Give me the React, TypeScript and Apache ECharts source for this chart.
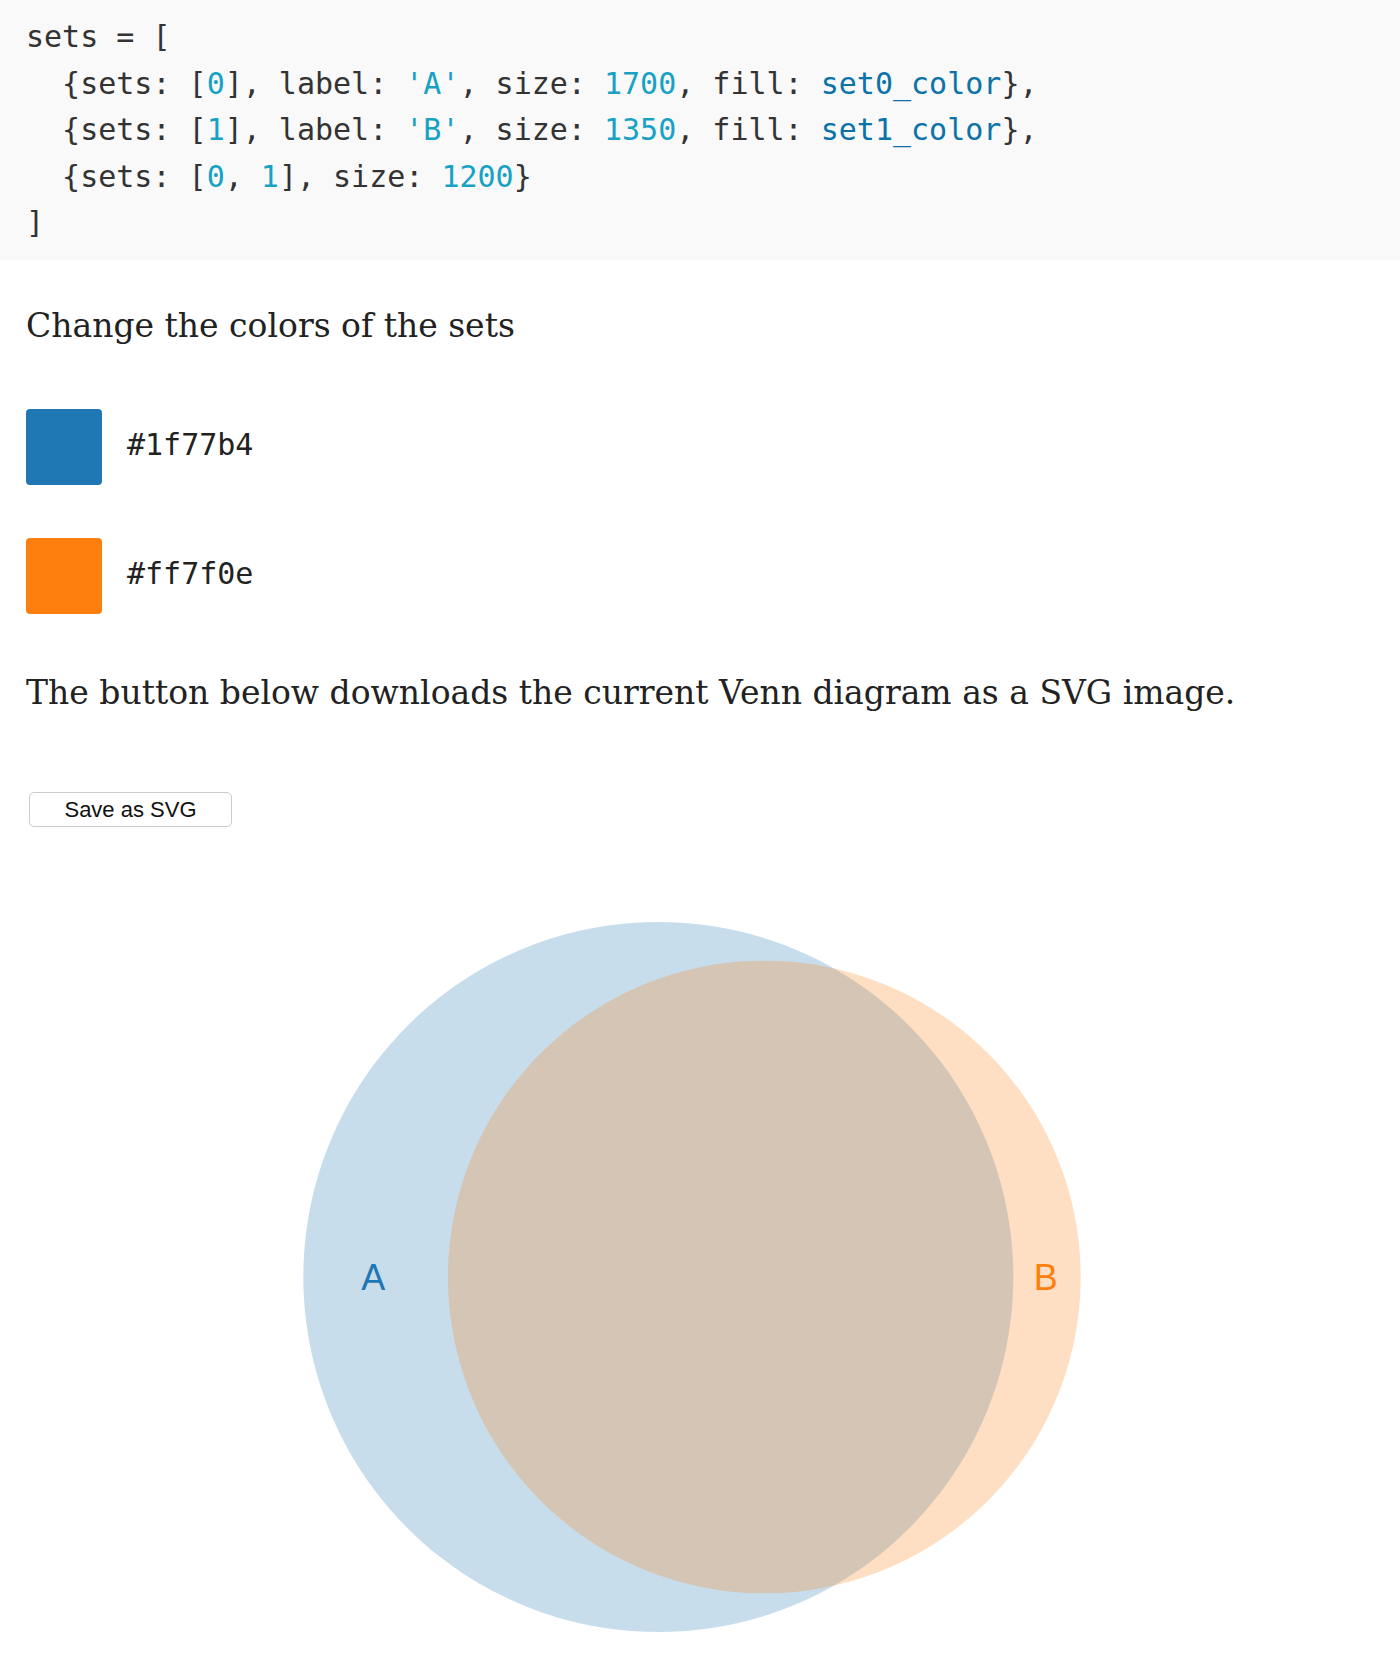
import { useEffect, useRef } from "react";
import * as echarts from "echarts";

const setLabels = ["A", "B"];
const setSizes = [1700, 1350];
const overlapSize = 1200;
const setColors = ["#1f77b4", "#ff7f0e"];

// area of the lens between two circles
const lensArea = (r1: number, r2: number, d: number) => {
  if (d >= r1 + r2) return 0;
  if (d <= Math.abs(r1 - r2)) return Math.PI * Math.min(r1, r2) ** 2;
  const a = Math.acos((d * d + r1 * r1 - r2 * r2) / (2 * d * r1));
  const b = Math.acos((d * d + r2 * r2 - r1 * r1) / (2 * d * r2));
  return r1 * r1 * (a - Math.sin(2 * a) / 2) + r2 * r2 * (b - Math.sin(2 * b) / 2);
};

const VennChart = () => {
  const chartRef = useRef(null);

  useEffect(() => {
    const chart = echarts.init(chartRef.current, null, { renderer: "svg" });
    const [r1, r2] = setSizes.map((s) => Math.sqrt(s / Math.PI));
    let lo = Math.abs(r1 - r2);
    let hi = r1 + r2;
    for (let i = 0; i < 60; i++) {
      const mid = (lo + hi) / 2;
      if (lensArea(r1, r2, mid) > overlapSize) lo = mid;
      else hi = mid;
    }
    const d = (lo + hi) / 2;
    // centre the bounding box of both circles
    const left = -r1;
    const right = d + r2;
    const shift = -(left + right) / 2;
    const circles = [
      [shift, 0, r1],
      [d + shift, 0, r2],
    ];
    const s = 355 / r1; // px per unit
    const cx = 692;

    const option = {
      animation: false,
      grid: { left: 0, right: 0, top: 0, bottom: 0 },
      xAxis: { type: "value", show: false, min: -cx / s, max: (1400 - cx) / s },
      yAxis: { type: "value", show: false, min: -400 / s, max: 400 / s },
      series: [
        {
          type: "custom",
          data: circles,
          renderItem: (params: any, api: any) => {
            const i = params.dataIndex;
            const c = api.coord([api.value(0), api.value(1)]);
            const r = api.size([api.value(2), 0])[0];
            const lx = i === 0 ? c[0] - r + 70 : c[0] + r - 35;
            return {
              type: "group",
              children: [
                {
                  type: "circle",
                  shape: { cx: c[0], cy: c[1], r },
                  style: { fill: setColors[i], opacity: 0.25 },
                },
                {
                  type: "text",
                  z2: 10,
                  style: {
                    x: lx,
                    y: c[1],
                    text: setLabels[i],
                    fill: setColors[i],
                    font: "36px 'Liberation Sans', Arial, sans-serif",
                    align: "center",
                    verticalAlign: "middle",
                  },
                },
              ],
            };
          },
        },
      ],
    };
    chart.setOption(option);
    return () => {
      chart.dispose();
    };
  }, []);

  return (
    <div
      ref={chartRef}
      style={{ position: "absolute", left: 0, top: 877, width: 1400, height: 800 }}
    />
  );
};

const mono = "'DejaVu Sans Mono', monospace";
const serif = "'DejaVu Serif', serif";
const num = { color: "#17a2c4" };
const ident = { color: "#0b73a8" };

const App = () => {
  useEffect(() => {
    document.body.style.margin = "0";
  }, []);
  const line = (top: number, content: any) => (
    <div style={{ position: "absolute", left: 26, top: top - 20, height: 40, lineHeight: "40px", whiteSpace: "pre" }}>
      {content}
    </div>
  );
  return (
    <div style={{ position: "relative", width: 1400, height: 1659, background: "#fff", overflow: "hidden" }}>
      <div style={{ position: "absolute", left: 0, top: 0, width: 1400, height: 260, background: "#f9f9f9", fontFamily: mono, fontSize: 30, color: "#333" }}>
        {line(37, "sets = [")}
        {line(84, <>{"  {sets: ["}<span style={num}>0</span>{"], label: "}<span style={num}>'A'</span>{", size: "}<span style={num}>1700</span>{", fill: "}<span style={ident}>set0_color</span>{"},"}</>)}
        {line(130, <>{"  {sets: ["}<span style={num}>1</span>{"], label: "}<span style={num}>'B'</span>{", size: "}<span style={num}>1350</span>{", fill: "}<span style={ident}>set1_color</span>{"},"}</>)}
        {line(177, <>{"  {sets: ["}<span style={num}>0</span>{", "}<span style={num}>1</span>{"], size: "}<span style={num}>1200</span>{"}"}</>)}
        {line(223, "]")}
      </div>
      <div style={{ position: "absolute", left: 26, top: 306, fontFamily: serif, fontSize: 33, color: "#222", whiteSpace: "nowrap" }}>
        Change the colors of the sets
      </div>
      {setColors.map((c, i) => (
        <div key={c}>
          <div style={{ position: "absolute", left: 26, top: 409 + i * 129, width: 76, height: 76, borderRadius: 4, background: c }} />
          <div style={{ position: "absolute", left: 127, top: 427 + i * 129, fontFamily: mono, fontSize: 30, color: "#222", lineHeight: "36px" }}>
            {c}
          </div>
        </div>
      ))}
      <div style={{ position: "absolute", left: 26, top: 673, fontFamily: serif, fontSize: 33, color: "#222", whiteSpace: "nowrap" }}>
        The button below downloads the current Venn diagram as a SVG image.
      </div>
      <div style={{ position: "absolute", left: 29, top: 792, width: 201, height: 33, border: "1px solid #ccc", borderRadius: 5, background: "#fff", fontFamily: "'Liberation Sans', Arial, sans-serif", fontSize: 22, lineHeight: "33px", textAlign: "center", color: "#111" }}>
        Save as SVG
      </div>
      <VennChart />
    </div>
  );
};

export default App;
